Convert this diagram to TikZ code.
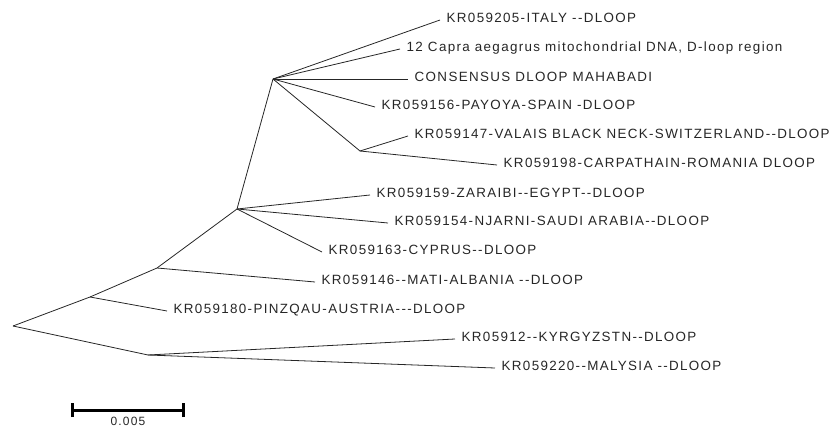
\documentclass[tikz,border=0pt]{standalone}
\usepackage{fontspec}
\newfontfamily\lblfont[LetterSpace=10,Ligatures=TeXOff]{Liberation Sans}
\begin{document}
\begin{tikzpicture}[x=1pt,y=-1pt,
  branch/.style={draw=black!85,line width=0.8pt},
  leaf/.style={anchor=west,font=\lblfont\fontsize{13.4}{15}\selectfont,text=black!85,
    inner xsep=6.5pt,inner ysep=0pt,text height=9.6pt,text depth=5pt},
  scalebar/.style={draw=black,line width=3pt}]
\useasboundingbox (0,0) rectangle (832,427);
% internal nodes
\coordinate (root) at (13,326);
\coordinate (A) at (90,297);
\coordinate (B) at (157,268);
\coordinate (E) at (237,209);
\coordinate (F) at (273,79);
\coordinate (G) at (360,151);
\coordinate (D) at (148,355);
% leaves
\node[leaf] (l1) at (440,20) {KR059205-ITALY --DLOOP};
\node[leaf] (l2) at (400,49) {12 Capra aegagrus mitochondrial DNA, D-loop region};
\node[leaf] (l3) at (408,79) {CONSENSUS DLOOP MAHABADI};
\node[leaf] (l4) at (375,107) {KR059156-PAYOYA-SPAIN -DLOOP};
\node[leaf] (l5) at (408,136) {KR059147-VALAIS BLACK NECK-SWITZERLAND--DLOOP};
\node[leaf] (l6) at (497,165) {KR059198-CARPATHAIN-ROMANIA DLOOP};
\node[leaf] (l7) at (370,195) {KR059159-ZARAIBI--EGYPT--DLOOP};
\node[leaf] (l8) at (388,223) {KR059154-NJARNI-SAUDI ARABIA--DLOOP};
\node[leaf] (l9) at (322,252) {KR059163-CYPRUS--DLOOP};
\node[leaf] (l10) at (315,282) {KR059146--MATI-ALBANIA --DLOOP};
\node[leaf] (l11) at (167,311) {KR059180-PINZQAU-AUSTRIA---DLOOP};
\node[leaf] (l12) at (455,339) {KR05912--KYRGYZSTN--DLOOP};
\node[leaf] (l13) at (495,368) {KR059220--MALYSIA --DLOOP};
% branches
\draw[branch] (root) -- (A) -- (B) -- (E) -- (F);
\draw[branch] (root) -- (D);
\draw[branch] (F) -- (l1.west);
\draw[branch] (F) -- (l2.west);
\draw[branch] (F) -- (l3.west);
\draw[branch] (F) -- (l4.west);
\draw[branch] (F) -- (G);
\draw[branch] (G) -- (l5.west);
\draw[branch] (G) -- (l6.west);
\draw[branch] (E) -- (l7.west);
\draw[branch] (E) -- (l8.west);
\draw[branch] (E) -- (l9.west);
\draw[branch] (B) -- (l10.west);
\draw[branch] (A) -- (l11.west);
\draw[branch] (D) -- (l12.west);
\draw[branch] (D) -- (l13.west);
% scale bar
\coordinate (s1) at (72,410);
\coordinate (s2) at (183,410);
\draw[scalebar] (s1) -- (s2);
\draw[scalebar] ([yshift=-7pt]s1) -- ([yshift=7pt]s1);
\draw[scalebar] ([yshift=-7pt]s2) -- ([yshift=7pt]s2);
\node[anchor=base,font=\lblfont\fontsize{12}{13}\selectfont,inner sep=0pt,text=black!85] (sl) at (128,425) {0.005};
\end{tikzpicture}
\end{document}
